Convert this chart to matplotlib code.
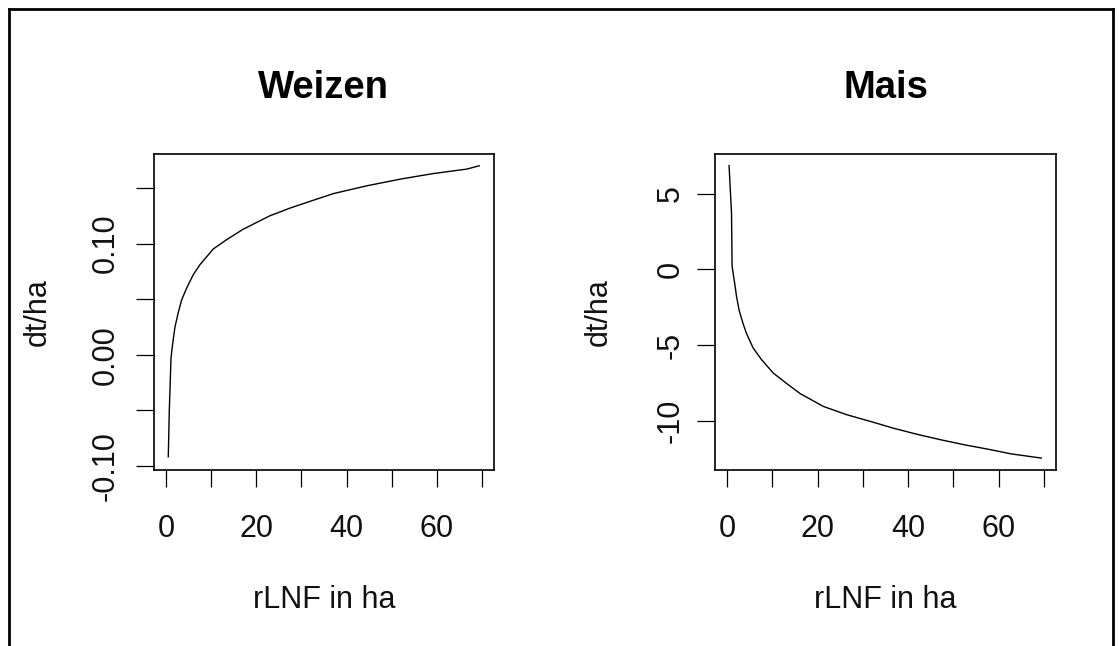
import matplotlib.pyplot as plt
from matplotlib.lines import Line2D

plt.rcParams['font.family'] = ['Liberation Sans', 'DejaVu Sans']

# Weizen: Ertragsdifferenz (dt/ha) ueber rLNF (ha)
weizen_x = [0.51, 0.73, 1.11, 1.48, 1.99, 2.72, 3.48, 4.59, 6.05, 7.53,
            10.48, 13.45, 17.12, 18.6, 23.0, 27.5, 31.9, 37.1, 44.5, 51.9,
            59.2, 66.6, 69.4]
weizen_y = [-0.0916, -0.0511, -0.0030, 0.0100, 0.0250, 0.0380, 0.0495, 0.0601,
            0.0721, 0.0811, 0.0952, 0.1036, 0.1130, 0.116, 0.125, 0.132,
            0.138, 0.145, 0.152, 0.158, 0.163, 0.167, 0.170]

# Mais
mais_x = [0.44, 0.98, 1.11, 1.71, 2.09, 2.66, 3.55, 4.31, 5.77, 7.63, 10.2,
          13.2, 16.1, 21.3, 26.5, 31.7, 36.8, 42.0, 47.2, 52.4, 57.6, 62.7,
          69.4]
mais_y = [6.86, 3.73, 0.20, -0.98, -1.79, -2.70, -3.60, -4.25, -5.20, -5.97,
          -6.85, -7.55, -8.20, -9.06, -9.61, -10.05, -10.50, -10.90, -11.26,
          -11.59, -11.88, -12.19, -12.47]

x_ticks = [0, 10, 20, 30, 40, 50, 60, 70]
x_labels = ['0', '', '20', '', '40', '', '60', '']
weizen_ticks = [-0.10, -0.05, 0.00, 0.05, 0.10, 0.15]
weizen_labels = ['-0.10', '', '0.00', '', '0.10', '']
mais_ticks = [-10, -5, 0, 5]
mais_labels = ['-10', '-5', '0', '5']

fig = plt.figure(figsize=(11.19, 6.46), dpi=100)
fig.patch.set_facecolor('white')

panels = [
    ('Weizen', [0.1376, 0.2724, 0.3038, 0.4892], weizen_x, weizen_y,
     (-0.1036, 0.1806), weizen_ticks, weizen_labels, 11),
    ('Mais', [0.6390, 0.2724, 0.3047, 0.4892], mais_x, mais_y,
     (-13.26, 7.63), mais_ticks, mais_labels, 8),
]

txt = '#111111'
for title, rect, xs, ys, ylim, yt, yl, ypad in panels:
    ax = fig.add_axes(rect)
    ax.plot(xs, ys, color='black', linewidth=1.0)
    ax.set_xlim(-2.66, 72.66)
    ax.set_ylim(*ylim)
    ax.set_xticks(x_ticks)
    ax.set_xticklabels(x_labels)
    ax.set_yticks(yt)
    ax.set_yticklabels(yl, rotation=90, va='center')
    ax.tick_params(axis='x', length=12, width=0.9, pad=20, labelsize=22,
                   labelcolor=txt)
    ax.tick_params(axis='y', length=13, width=0.9, pad=ypad, labelsize=22,
                   labelcolor=txt)
    for sp in ax.spines.values():
        sp.set_linewidth(1.2)
    ax.set_title(title, fontsize=27.5, fontweight='bold', y=1.209,
                 va='center', pad=0)
    ax.set_xlabel('rLNF in ha', fontsize=22, va='center', color=txt)
    ax.xaxis.set_label_coords(0.5, -0.41)
    ax.set_ylabel('dt/ha', fontsize=22, va='center', color=txt)
    ax.yaxis.set_label_coords(-0.341, 0.5)

# outer frame (left, top, right)
W, H = 1119, 646
fx = lambda p: p / W
fy = lambda p: 1 - p / H
fig.add_artist(Line2D([fx(9), fx(9)], [fy(646), fy(9)], color='black', linewidth=2))
fig.add_artist(Line2D([fx(9), fx(1113)], [fy(9), fy(9)], color='black', linewidth=2))
fig.add_artist(Line2D([fx(1113), fx(1113)], [fy(9), fy(646)], color='black', linewidth=2))

fig.savefig('out.png', dpi=100)
